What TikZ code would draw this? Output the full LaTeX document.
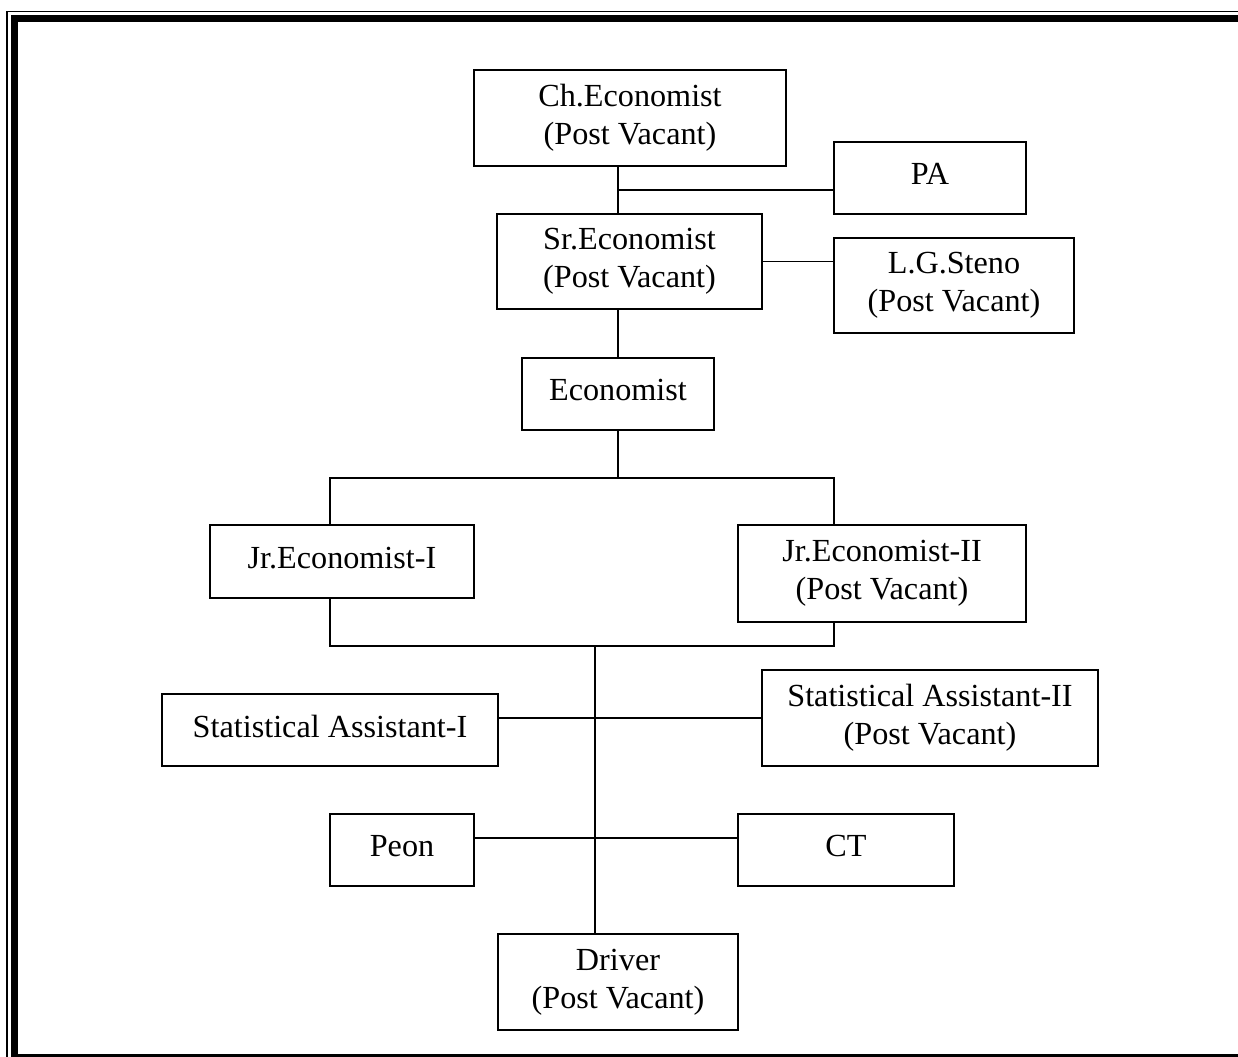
\documentclass[tikz,border=0pt]{standalone}
\usepackage{fontspec}
\setmainfont{Liberation Serif}
\tikzset{
    post/.style 2 args={draw, line width=0.6pt, align=center, inner sep=0pt,
        minimum width=#1*0.41pt, minimum height=#2*0.41pt,
        font=\fontsize{13.2}{15.6}\selectfont},
    oneline/.style={text depth=3pt},
    link/.style={line width=0.6pt}
}
\begin{document}
\begin{tikzpicture}[x=0.41pt, y=-0.41pt]
            \useasboundingbox (0,0) rectangle (1238,1057);
            \begin{scope}
                \clip (0,0) rectangle (1238,1057);
                \draw[line width=0.6pt] (7,11.5) rectangle (1280,1070);
                \draw[line width=2.9pt] (14.6,18.6) rectangle (1270,1057.5);
            \end{scope}
            \node[post={312}{96}] (ch) at (630,118) {Ch.Economist\\(Post Vacant)};
            \node[post={192}{72}, oneline] (pa) at (930,178) {PA};
            \node[post={265}{95}] (sr) at (629.5,261.5) {Sr.Economist\\(Post Vacant)};
            \node[post={240}{95}] (st) at (954,285.5) {L.G.Steno\\(Post Vacant)};
            \node[post={192}{72}, oneline] (ec) at (618,394) {Economist};
            \node[post={264}{73}, oneline] (j1) at (342,561.5) {Jr.Economist-I};
            \node[post={288}{97}] (j2) at (882,573.5) {Jr.Economist-II\\(Post Vacant)};
            \node[post={336}{72}, oneline] (sa1) at (330,730) {Statistical Assistant-I};
            \node[post={336}{96}] (sa2) at (930,718) {Statistical Assistant-II\\(Post Vacant)};
            \node[post={144}{72}, oneline] (pe) at (402,850) {Peon};
            \node[post={216}{72}, oneline] (ct) at (846,850) {CT};
            \node[post={240}{96}] (dr) at (618,982) {Driver\\(Post Vacant)};
            \coordinate (pab) at (618,190);
            \coordinate (ea) at (330,478);
            \coordinate (eb) at (834,478);
            \coordinate (ja) at (330,646);
            \coordinate (jb) at (834,646);
            \coordinate (jm) at (595,646);
            \coordinate (sy) at (595,718);
            \coordinate (py) at (595,838);
            \draw[link] (ch.south -| ec) -- (sr.north -| ec);
            \draw[link] (pab) -- (pab -| pa.west);
            \draw[link] (sr.east) -- (sr.east -| st.west);
            \draw[link] (sr.south -| ec) -- (ec.north);
            \draw[link] (ec.south) -- (ec.south |- ea);
            \draw[link] (j1.north -| ea) -- (ea) -- (eb) -- (j2.north -| eb);
            \draw[link] (j1.south -| ja) -- (ja) -- (jb) -- (j2.south -| jb);
            \draw[link] (jm) -- (dr.north -| jm);
            \draw[link] (sa1.east |- sy) -- (sa2.west |- sy);
            \draw[link] (pe.east |- py) -- (ct.west |- py);
        \end{tikzpicture}
\end{document}
